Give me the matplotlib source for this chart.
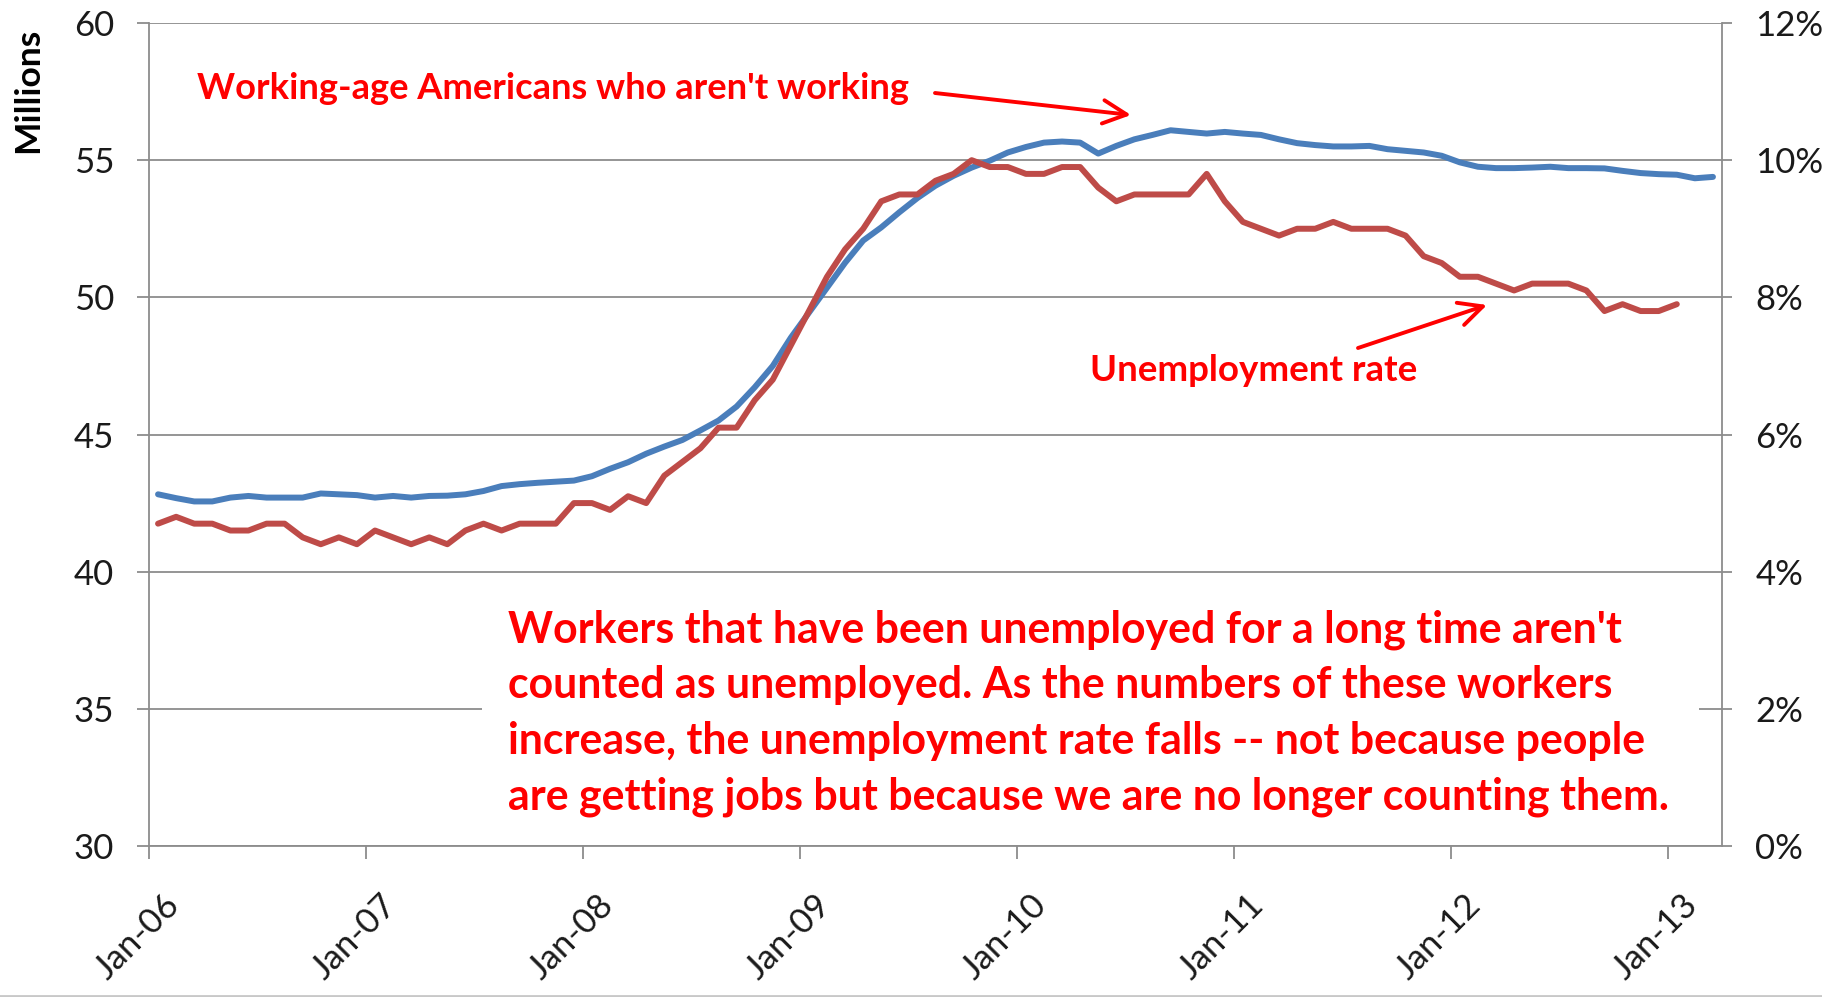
import matplotlib
matplotlib.use("Agg")
import matplotlib.pyplot as plt
from matplotlib.patches import Rectangle
from matplotlib.lines import Line2D
from matplotlib.transforms import ScaledTranslation

W, H = 1822, 997

# millions of working-age Americans not working, monthly Jan-06 .. Mar-13
not_working = [
    42.82, 42.68, 42.56, 42.56, 42.70, 42.76, 42.70, 42.70, 42.70, 42.85, 42.82, 42.79,
    42.70, 42.76, 42.70, 42.76, 42.77, 42.82, 42.94, 43.12, 43.19, 43.24, 43.28, 43.32,
    43.48, 43.75, 43.99, 44.30, 44.56, 44.80, 45.15, 45.51, 46.02, 46.72, 47.50, 48.53,
    49.44, 50.35, 51.26, 52.07, 52.55, 53.10, 53.62, 54.07, 54.43, 54.73, 54.98, 55.28,
    55.48, 55.64, 55.68, 55.64, 55.24, 55.52, 55.76, 55.92, 56.09, 56.03, 55.97, 56.03,
    55.97, 55.92, 55.76, 55.62, 55.55, 55.50, 55.50, 55.52, 55.40, 55.34, 55.28, 55.16,
    54.92, 54.76, 54.71, 54.71, 54.73, 54.76, 54.71, 54.71, 54.70, 54.61, 54.53, 54.49,
    54.47, 54.34, 54.39,
]
# unemployment rate in %, monthly Jan-06 .. Jan-13
unemp_rate = [
    4.7, 4.8, 4.7, 4.7, 4.6, 4.6, 4.7, 4.7, 4.5, 4.4, 4.5, 4.4,
    4.6, 4.5, 4.4, 4.5, 4.4, 4.6, 4.7, 4.6, 4.7, 4.7, 4.7, 5.0,
    5.0, 4.9, 5.1, 5.0, 5.4, 5.6, 5.8, 6.1, 6.1, 6.5, 6.8, 7.3,
    7.8, 8.3, 8.7, 9.0, 9.4, 9.5, 9.5, 9.7, 9.8, 10.0, 9.9, 9.9,
    9.8, 9.8, 9.9, 9.9, 9.6, 9.4, 9.5, 9.5, 9.5, 9.5, 9.8, 9.4,
    9.1, 9.0, 8.9, 9.0, 9.0, 9.1, 9.0, 9.0, 9.0, 8.9, 8.6, 8.5,
    8.3, 8.3, 8.2, 8.1, 8.2, 8.2, 8.2, 8.1, 7.8, 7.9, 7.8, 7.8,
    7.9,
]
year_labels = ["Jan-06", "Jan-07", "Jan-08", "Jan-09", "Jan-10", "Jan-11", "Jan-12", "Jan-13"]
left_ticks = [30, 35, 40, 45, 50, 55, 60]
right_ticks = [0, 2, 4, 6, 8, 10, 12]

note_lines = [
    "Workers that have been unemployed for a long time aren't",
    "counted as unemployed. As the numbers of these workers",
    "increase, the unemployment rate falls -- not because people",
    "are getting jobs but because we are no longer counting them.",
]

plt.rcParams["font.family"] = ["Lato", "DejaVu Sans"]
GRAY = "#8c8c8c"
BLUE = "#4a7ebb"
RED = "#be4b48"


def fx(px):
    return px / W


def fy(py):
    return 1 - py / H


fig = plt.figure(figsize=(W / 100, H / 100), dpi=100)
ax = fig.add_axes([fx(149), fy(846), (1722 - 149) / W, (846 - 23) / H])
ax2 = ax.twinx()

ax.plot(range(len(not_working)), not_working, color=BLUE, lw=4.3, solid_capstyle="round", zorder=3)
ax2.plot(range(len(unemp_rate)), unemp_rate, color=RED, lw=4.3, solid_capstyle="round", zorder=3)

ax.set_xlim(-0.5, len(not_working) - 0.5)
ax.set_ylim(30, 60)
ax2.set_ylim(0, 12)
ax.set_yticks(left_ticks)
ax2.set_yticks(right_ticks)
ax2.set_yticklabels([f"{v}%" for v in right_ticks])
ax.set_xticks([-0.5 + 12 * i for i in range(len(year_labels))])
ax.set_xticklabels(year_labels, rotation=45, ha="right", va="center", rotation_mode="anchor")

ax.set_axisbelow(True)
ax.yaxis.grid(True, color=GRAY, lw=1.3)

for a in (ax, ax2):
    for s in a.spines.values():
        s.set_color(GRAY)
        s.set_linewidth(1.3)
    a.spines["top"].set_visible(False)
ax.spines["right"].set_visible(False)
ax2.spines["left"].set_visible(False)
ax2.spines["bottom"].set_visible(False)

ax.tick_params(axis="y", direction="out", length=9, width=1.3, color=GRAY, pad=16,
               labelsize=25, labelcolor="#1a1a1a")
ax2.tick_params(axis="y", direction="out", length=7, width=1.3, color=GRAY, pad=17,
                labelsize=25, labelcolor="#1a1a1a")
ax.tick_params(axis="x", direction="out", length=9, width=1.3, color=GRAY, pad=30,
               labelsize=25, labelcolor="#1a1a1a")
shift = ScaledTranslation(18 / 72, 0, fig.dpi_scale_trans)
for lab in ax.get_xticklabels():
    lab.set_transform(lab.get_transform() + shift)

# white text box hides the 35 gridline
ax.add_patch(Rectangle((fx(482), fy(838)), (1699 - 482) / W, (838 - 588) / H,
                       transform=fig.transFigure, facecolor="white", edgecolor="none", zorder=1))

t_ylab = fig.text(fx(12), fy(28), "Millions", rotation=90, fontweight="bold", fontsize=22,
                  ha="left", va="top", color="black")
t_top = fig.text(fx(197), fy(99), "Working-age Americans who aren't working", color="red",
                 fontweight="bold", fontsize=24, ha="left", va="baseline")
t_ur = fig.text(fx(1090), fy(381), "Unemployment rate", color="red",
                fontweight="bold", fontsize=24, ha="left", va="baseline")
note = []
for i, line in enumerate(note_lines):
    note.append(fig.text(fx(508), fy(643 + 55.4 * i), line, color="red", fontweight="bold",
                         fontsize=30, ha="left", va="baseline"))

arrows = [((935, 93), (1131, 115)), ((1358, 348), (1487, 305))]
for (x0, y0), (x1, y1) in arrows:
    ax.annotate("", xy=(fx(x1), fy(y1)), xytext=(fx(x0), fy(y0)), xycoords="figure fraction",
                arrowprops=dict(arrowstyle="->,head_length=0.85,head_width=0.42", color="red",
                                lw=2.8, mutation_scale=20, shrinkA=0, shrinkB=0))

fig.add_artist(Line2D([0, 1], [fy(995.5), fy(995.5)], transform=fig.transFigure,
                      color="#c8c8c8", lw=2))

# size the annotation texts to the widths in the original
fig.canvas.draw()
r = fig.canvas.get_renderer()


def fit(t, target, vertical=False):
    bb = t.get_window_extent(r)
    size = bb.height if vertical else bb.width
    t.set_fontsize(t.get_fontsize() * target / size)


fit(t_ylab, 125, vertical=True)
fit(t_top, 711)
fit(t_ur, 328)
fit(note[3], 1163)
for t in note[:3]:
    t.set_fontsize(note[3].get_fontsize())

fig.savefig("out.png", dpi=100, facecolor="white")
